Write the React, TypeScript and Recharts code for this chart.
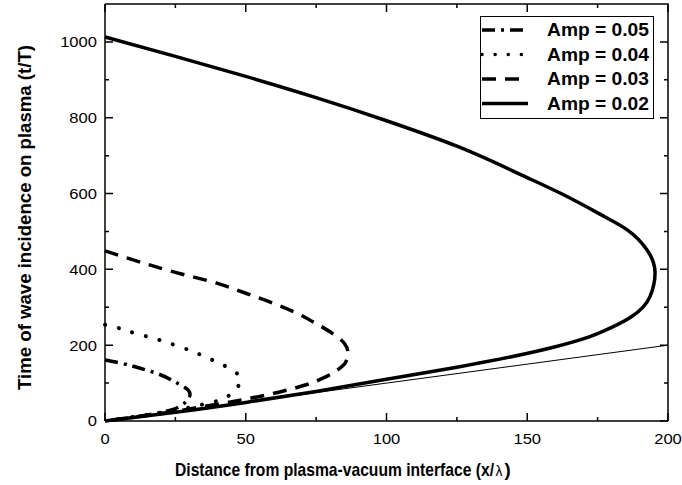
import { LineChart, Line, XAxis, YAxis, Label } from "recharts";

// (x/λ, t/T) points, in drawing order along each curve
const amp005 = [
  { x: 0, t: 161 }, { x: 5.3, t: 153 }, { x: 13.5, t: 137 }, { x: 19, t: 124 },
  { x: 25.6, t: 100 }, { x: 29.5, t: 82 }, { x: 30.2, t: 70 }, { x: 29.3, t: 56 },
  { x: 27.3, t: 42 }, { x: 23.5, t: 29 }, { x: 15, t: 16 }, { x: 0, t: 0 },
];
const amp004 = [
  { x: 0, t: 254 }, { x: 5.9, t: 243 }, { x: 11.3, t: 230 }, { x: 17, t: 219 },
  { x: 22.4, t: 206 }, { x: 26.6, t: 196 }, { x: 31.6, t: 182 }, { x: 36.3, t: 167 },
  { x: 41, t: 151 }, { x: 45.6, t: 133 }, { x: 48, t: 112 }, { x: 47.3, t: 91 },
  { x: 43.8, t: 66 }, { x: 39, t: 51 }, { x: 33.7, t: 42 }, { x: 25, t: 28 },
  { x: 15, t: 16 }, { x: 0, t: 0 },
];
const amp003 = [
  { x: 0, t: 449 }, { x: 10, t: 425 }, { x: 25, t: 392 }, { x: 40, t: 363 },
  { x: 50, t: 337 }, { x: 60, t: 310 }, { x: 68, t: 285 }, { x: 75, t: 257 },
  { x: 81, t: 230 }, { x: 85, t: 205 }, { x: 86.3, t: 180 }, { x: 85.5, t: 155 },
  { x: 83, t: 137 }, { x: 78, t: 115 }, { x: 72, t: 97 }, { x: 65, t: 82 },
  { x: 57, t: 68 }, { x: 48, t: 55 }, { x: 35, t: 38 }, { x: 20, t: 20 }, { x: 0, t: 0 },
];
const amp002 = [
  { x: 0, t: 1013 }, { x: 25, t: 962 }, { x: 50, t: 909 }, { x: 75, t: 853 },
  { x: 100, t: 792 }, { x: 125, t: 725 }, { x: 150, t: 642 }, { x: 162, t: 600 },
  { x: 175, t: 549 }, { x: 185.4, t: 505 }, { x: 192.5, t: 452 }, { x: 195.4, t: 391 },
  { x: 193.6, t: 328 }, { x: 187, t: 275 }, { x: 180, t: 247 }, { x: 172, t: 222 },
  { x: 160, t: 196 }, { x: 144, t: 169 }, { x: 125, t: 142 }, { x: 100, t: 110 },
  { x: 75, t: 78 }, { x: 50, t: 49 }, { x: 25, t: 23 }, { x: 0, t: 0 },
];
const lightLine = [{ x: 0, t: 0 }, { x: 200, t: 200 }];

const xTicks = [0, 25, 50, 75, 100, 125, 150, 175, 200];
const yTicks = [0, 100, 200, 300, 400, 500, 600, 700, 800, 900, 1000];
const X_MAX = 200;
const Y_MAX = 1100;

const legendItems = [
  { name: "Amp = 0.05", dash: "13 6 3 6", cap: "butt" },
  { name: "Amp = 0.04", dash: "0.1 13", cap: "round" },
  { name: "Amp = 0.03", dash: "14 9", cap: "butt" },
  { name: "Amp = 0.02", dash: undefined, cap: "butt" },
];

const FONT = "'Liberation Sans', Arial, sans-serif";
// inward tick lengths in data units (about 8px major, 4px minor)
const X_TICK_LEN = 21;
const Y_TICK_LEN = 2.85;

// top/right frame edges and the inward tick marks, built from the tick lists
const frameData = [{ x: 0, t: Y_MAX }, { x: X_MAX, t: Y_MAX }, { x: X_MAX, t: 0 }];
const tickMarks: { x: number; t: number | null }[] = [];
xTicks.forEach((v) => {
  const len = v % 50 === 0 ? X_TICK_LEN : X_TICK_LEN / 2;
  tickMarks.push({ x: v, t: 0 }, { x: v, t: len }, { x: v, t: null });
  tickMarks.push({ x: v, t: Y_MAX }, { x: v, t: Y_MAX - len }, { x: v, t: null });
});
yTicks.forEach((v) => {
  const len = v % 200 === 0 ? Y_TICK_LEN : Y_TICK_LEN / 2;
  tickMarks.push({ x: 0, t: v }, { x: len, t: v }, { x: 0, t: null });
  tickMarks.push({ x: X_MAX, t: v }, { x: X_MAX - len, t: v }, { x: X_MAX, t: null });
});

function tickText(x: number, y: number, value: number, anchor: string) {
  return (
    <text
      transform={`translate(${x},${y}) scale(1.12,1)`}
      textAnchor={anchor}
      fontSize={14.8}
      fontFamily={FONT}
      fill="#000"
    >
      {value}
    </text>
  );
}

function bottomTick(p: any) {
  const { x, y, payload } = p;
  if (payload.value % 50 !== 0) return <g />;
  return tickText(x, y + 23, payload.value, "middle");
}

function leftTick(p: any) {
  const { x, y, payload } = p;
  if (payload.value % 200 !== 0) return <g />;
  return tickText(x - 8, y + 5.4, payload.value, "end");
}

function LegendBox() {
  return (
    <svg width={174} height={103} style={{ display: "block" }}>
      <rect x={0.5} y={0.5} width={173} height={102} fill="#fff" stroke="#000" strokeWidth={1} />
      {legendItems.map((it, i) => {
        const cy = 14 + i * 24.5;
        return (
          <g key={it.name}>
            <line
              x1={2}
              x2={48}
              y1={cy}
              y2={cy}
              stroke="#000"
              strokeWidth={3.5}
              strokeDasharray={it.dash}
              strokeLinecap={it.cap as any}
            />
            <text
              x={67}
              y={cy + 6.3}
              fontSize={17.7}
              fontWeight="bold"
              fontFamily={FONT}
              textLength={102}
              lengthAdjust="spacingAndGlyphs"
              fill="#000"
            >
              {it.name}
            </text>
          </g>
        );
      })}
    </svg>
  );
}

export default function App() {
  const axisLine = { stroke: "#000", strokeWidth: 1.5 };
  return (
    <div style={{ position: "absolute", left: 0, top: 0, width: 682, height: 485, background: "#fff" }}>
      <LineChart width={682} height={485} margin={{ top: 4, right: 14, left: 0, bottom: 0 }}>
        <XAxis
          xAxisId="b"
          dataKey="x"
          type="number"
          domain={[0, X_MAX]}
          ticks={xTicks}
          height={64}
          axisLine={axisLine}
          tickLine={false}
          tickSize={0}
          tickMargin={0}
          tick={bottomTick}
          interval={0}
        >
          <Label
            content={() => (
              <g fontFamily={FONT} fill="#000">
                <text
                  x={175}
                  y={476}
                  fontSize={18.6}
                  fontWeight="bold"
                  textLength={319}
                  lengthAdjust="spacingAndGlyphs"
                >
                  Distance from plasma-vacuum interface (x/
                </text>
                <text x={495.5} y={476} fontSize={14}>
                  λ
                </text>
                <text x={504.5} y={476} fontSize={18.6} fontWeight="bold">
                  )
                </text>
              </g>
            )}
          />
        </XAxis>
        <YAxis
          yAxisId="l"
          type="number"
          domain={[0, Y_MAX]}
          ticks={yTicks}
          width={105}
          axisLine={axisLine}
          tickLine={false}
          tickSize={0}
          tickMargin={0}
          tick={leftTick}
          interval={0}
        >
          <Label
            content={() => (
              <text
                transform="translate(31,390) rotate(-90)"
                fontSize={18.6}
                fontWeight="bold"
                fontFamily={FONT}
                textLength={345}
                lengthAdjust="spacingAndGlyphs"
                fill="#000"
              >
                Time of wave incidence on plasma (t/T)
              </text>
            )}
          />
        </YAxis>
        <Line
          xAxisId="b"
          yAxisId="l"
          data={frameData}
          dataKey="t"
          name="frame"
          type="linear"
          stroke="#000"
          strokeWidth={1.5}
          dot={false}
          activeDot={false}
          legendType="none"
          isAnimationActive={false}
        />
        <Line
          xAxisId="b"
          yAxisId="l"
          data={tickMarks}
          dataKey="t"
          name="ticks"
          type="linear"
          stroke="#000"
          strokeWidth={1.5}
          connectNulls={false}
          dot={false}
          activeDot={false}
          legendType="none"
          isAnimationActive={false}
        />
        <Line
          xAxisId="b"
          yAxisId="l"
          data={lightLine}
          dataKey="t"
          name="x = t"
          type="linear"
          stroke="#000"
          strokeWidth={1}
          dot={false}
          activeDot={false}
          legendType="none"
          isAnimationActive={false}
        />
        <Line
          xAxisId="b"
          yAxisId="l"
          data={amp002}
          dataKey="t"
          name="Amp = 0.02"
          type="monotoneY"
          stroke="#000"
          strokeWidth={3.5}
          dot={false}
          activeDot={false}
          isAnimationActive={false}
        />
        <Line
          xAxisId="b"
          yAxisId="l"
          data={amp003}
          dataKey="t"
          name="Amp = 0.03"
          type="monotoneY"
          stroke="#000"
          strokeWidth={3.5}
          strokeDasharray="14 9"
          dot={false}
          activeDot={false}
          isAnimationActive={false}
        />
        <Line
          xAxisId="b"
          yAxisId="l"
          data={amp004}
          dataKey="t"
          name="Amp = 0.04"
          type="monotoneY"
          stroke="#000"
          strokeWidth={4}
          strokeDasharray="0.1 14"
          strokeLinecap="round"
          dot={false}
          activeDot={false}
          isAnimationActive={false}
        />
        <Line
          xAxisId="b"
          yAxisId="l"
          data={amp005}
          dataKey="t"
          name="Amp = 0.05"
          type="monotoneY"
          stroke="#000"
          strokeWidth={3.5}
          strokeDasharray="13 6 3 6"
          dot={false}
          activeDot={false}
          isAnimationActive={false}
        />
      </LineChart>
      <div style={{ position: "absolute", left: 480, top: 16 }}>
        <LegendBox />
      </div>
    </div>
  );
}
